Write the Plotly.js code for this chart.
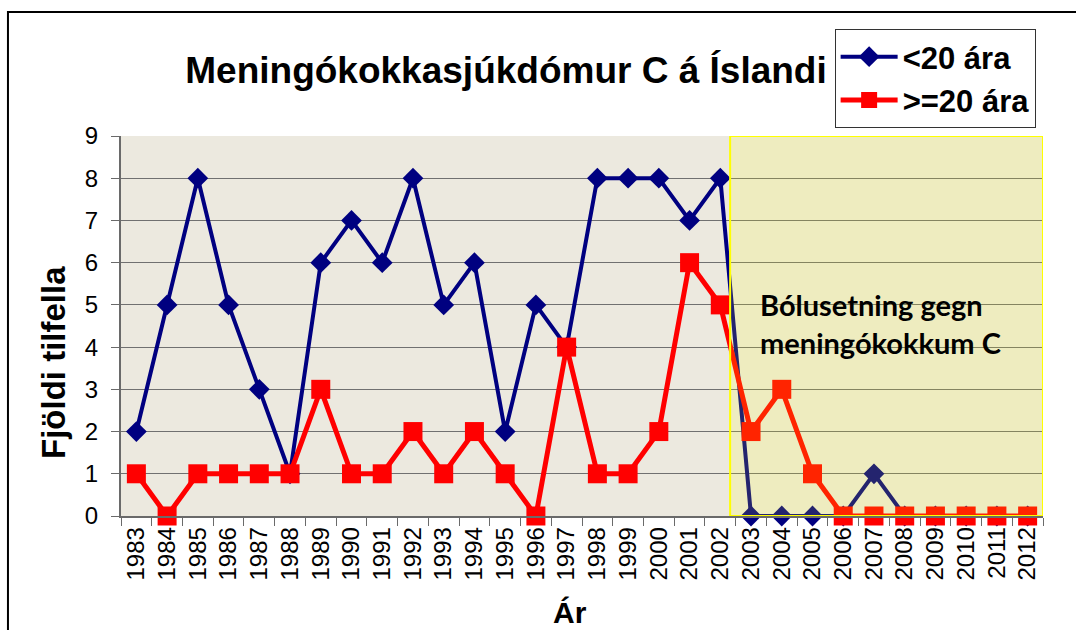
<!DOCTYPE html>
<html>
<head>
<meta charset="utf-8">
<script src="https://cdn.plot.ly/plotly-3.0.1.min.js"></script>
<style>html,body{margin:0;padding:0;background:#fff;}#chart{width:1076px;height:630px;}</style>
</head>
<body>
<div id="chart"></div>
<script>
const years = ["1983","1984","1985","1986","1987","1988","1989","1990","1991","1992","1993","1994","1995","1996","1997","1998","1999","2000","2001","2002","2003","2004","2005","2006","2007","2008","2009","2010","2011","2012"];
const under20 = [2,5,8,5,3,1,6,7,6,8,5,6,2,5,4,8,8,8,7,8,0,0,0,0,1,0,0,0,0,0];
const over20 = [1,0,1,1,1,1,3,1,1,2,1,2,1,0,4,1,1,2,6,5,2,3,1,0,0,0,0,0,0,0];
const seriesNames = ["<20 ára", ">=20 ára"];
const titleText = "Meningókokkasjúkdómur C á Íslandi";
const yTitle = "Fjöldi tilfella";
const xTitle = "Ár";
const noteText = "Bólusetning gegn<br>meningókokkum C";

const FONT = "Liberation Sans, Arial, sans-serif";

const traces = [
  {
    x: years, y: under20, name: seriesNames[0], type: "scatter", mode: "lines+markers",
    line: {color: "#000080", width: 4},
    marker: {symbol: "diamond", size: 16, color: "#000080"},
    cliponaxis: false
  },
  {
    x: years, y: over20, name: seriesNames[1], type: "scatter", mode: "lines+markers",
    line: {color: "#FF0000", width: 5},
    marker: {symbol: "square", size: 19, color: "#FF0000"},
    cliponaxis: false
  }
];

const layout = {
  width: 1076, height: 630,
  margin: {l: 121, r: 33, t: 136, b: 114},
  paper_bgcolor: "#ffffff",
  plot_bgcolor: "#ECE9DF",
  font: {family: FONT, color: "#000"},
  title: {
    text: titleText, font: {family: FONT, size: 37, weight: "bold", color: "#000"},
    x: 0.4176, xref: "paper", xanchor: "center", y: 0.889, yref: "container", yanchor: "middle"
  },
  showlegend: true,
  legend: {
    x: 0.774, y: (516 - 29) / 380, xanchor: "left", yanchor: "top",
    bgcolor: "#ffffff", bordercolor: "#333", borderwidth: 1,
    font: {family: FONT, size: 31, weight: "bold", color: "#000"},
    tracegroupgap: 0, itemwidth: 57
  },
  xaxis: {
    type: "category", range: [-0.5, 29.5], fixedrange: true,
    showgrid: false, showline: true, linecolor: "#6a6a6a", linewidth: 1.5,
    ticks: "outside", tickson: "boundaries", ticklen: 8, tickcolor: "#6a6a6a",
    tickangle: -90, tickfont: {family: FONT, size: 24, color: "#000"},
    zeroline: false
  },
  yaxis: {
    range: [0, 9], dtick: 1, tick0: 0, fixedrange: true,
    showgrid: true, gridcolor: "#707070", gridwidth: 1.2,
    showline: true, linecolor: "#6a6a6a", linewidth: 2,
    ticks: "outside", ticklen: 8, tickcolor: "#6a6a6a",
    ticklabelstandoff: 8,
    tickfont: {family: FONT, size: 24, color: "#000"},
    zeroline: false
  },
  shapes: [
    {type: "rect", xref: "x", yref: "y", x0: 19.32, x1: 29.5, y0: 0, y1: 9, layer: "above",
     fillcolor: "rgba(255,255,0,0.14)", line: {color: "#FFFF00", width: 2}},
    {type: "rect", xref: "paper", yref: "paper", x0: -0.1226, x1: 1.05, y0: -0.4, y1: 1.3263, layer: "below",
     fillcolor: "rgba(0,0,0,0)", line: {color: "#000", width: 2}}
  ],
  annotations: [
    {text: noteText, xref: "paper", yref: "paper", x: (758 - 121) / 922, y: (516 - 323) / 380,
     xanchor: "left", yanchor: "middle", align: "left", showarrow: false,
     font: {family: "Lato, Carlito, Calibri, sans-serif", size: 29, weight: "bold", color: "#000"}},
    {text: yTitle, xref: "paper", yref: "paper", x: (53 - 121) / 922, y: (516 - 363) / 380,
     xanchor: "center", yanchor: "middle", textangle: -90, showarrow: false,
     font: {family: FONT, size: 33, weight: "bold", color: "#000"}},
    {text: xTitle, xref: "paper", yref: "paper", x: (570 - 121) / 922, y: (516 - 612) / 380,
     xanchor: "center", yanchor: "middle", showarrow: false,
     font: {family: FONT, size: 30, weight: "bold", color: "#000"}}
  ]
};

Plotly.newPlot("chart", traces, layout, {displayModeBar: false, staticPlot: true});
</script>
</body>
</html>
